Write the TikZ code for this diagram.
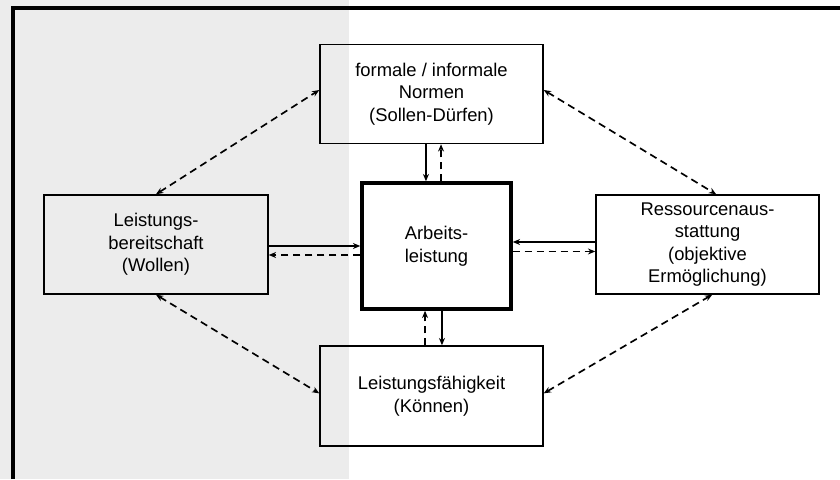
\documentclass[tikz,border=0pt]{standalone}
\usepackage{fontspec}
\setmainfont{Liberation Sans}
\usetikzlibrary{arrows.meta}
\definecolor{panelgray}{HTML}{ECECEC}
\begin{document}
\begin{tikzpicture}[x=0.75pt,y=-0.75pt,
  box/.style={draw,line width=1.1pt,align=center,inner sep=0pt,
    font=\fontsize{13.8}{16.9}\selectfont},
  mainbox/.style={box,line width=2.6pt},
  tip/.style={-{Stealth[length=5.5pt,width=4.5pt,inset=1.8pt]}},
  solidflow/.style={tip,line width=1.25pt},
  dashflow/.style={tip,line width=1.25pt,dash pattern=on 5.5pt off 3.5pt},
  mutual/.style={{Stealth[length=5.5pt,width=4.5pt,inset=1.8pt]}-{Stealth[length=5.5pt,width=4.5pt,inset=1.8pt]},
    line width=1.25pt,dash pattern=on 5.5pt off 3.5pt}]
\useasboundingbox (0,0) rectangle (840,479);
% shaded left panel
\fill[panelgray] (0,0) rectangle (349,479);
% frame edges
\coordinate (fb) at (12.8,479);
\coordinate (fc) at (12.8,7.5);
\coordinate (fr) at (840,7.5);
\draw[line width=3pt] (fb) -- (fc) -- (fr);

% boxes
\node[mainbox,minimum width=111.75pt,minimum height=94.5pt] (A) at (436.5,246) {Arbeits-\\leistung};
\node[box,minimum width=167.25pt,minimum height=74.25pt] (N) at (431.5,94) {formale / informale\\Normen\\(Sollen-Dürfen)};
\node[box,minimum width=168pt,minimum height=74.25pt] (B) at (156,244.5) {Leistungs-\\bereitschaft\\(Wollen)};
\node[box,minimum width=167.25pt,minimum height=74.25pt] (R) at (707.5,244.5) {Ressourcenaus-\\stattung\\(objektive\\Ermöglichung)};
\node[box,minimum width=167.25pt,minimum height=75pt] (F) at (431.5,396) {Leistungsfähigkeit\\(Können)};

% Normen <-> Arbeitsleistung
\draw[solidflow] ([xshift=-7.9pt]A.north |- N.south) -- ([xshift=-7.9pt]A.north);
\draw[dashflow] ([xshift=3.4pt]A.north) -- ([xshift=3.4pt]A.north |- N.south);
% Leistungsfaehigkeit <-> Arbeitsleistung
\draw[dashflow] ([xshift=-8.6pt]A.south |- F.north) -- ([xshift=-8.6pt]A.south);
\draw[solidflow] ([xshift=4.1pt]A.south) -- ([xshift=4.1pt]A.south |- F.north);
% Leistungsbereitschaft <-> Arbeitsleistung
\draw[solidflow] (B.east |- A.west) -- (A.west);
\draw[dashflow] ([yshift=-6.75pt]A.west) -- ([yshift=-6.75pt]A.west -| B.east);
% Ressourcenausstattung <-> Arbeitsleistung
\draw[solidflow] ([yshift=3pt]A.east -| R.west) -- ([yshift=3pt]A.east);
\draw[dashflow] ([yshift=-4.1pt]A.east) -- ([yshift=-4.1pt]A.east -| R.west);

% mutual influences between the outer boxes
\draw[mutual] (B.north) -- ([yshift=3pt]N.west);
\draw[mutual] ([yshift=3pt]N.east) -- ([xshift=6.5pt]R.north);
\draw[mutual] (B.south) -- ([yshift=2pt]F.west);
\draw[mutual] ([yshift=2pt]F.east) -- ([xshift=3.5pt]R.south);
\end{tikzpicture}
\end{document}
